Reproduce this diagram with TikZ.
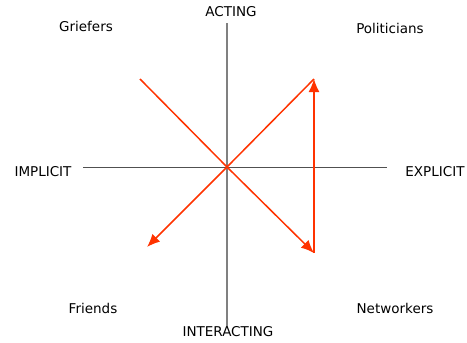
\documentclass[tikz,border=0pt]{standalone}
\usepackage{fontspec}
\setmainfont{DejaVu Sans}
\usetikzlibrary{arrows.meta,positioning}

\definecolor{axisgray}{HTML}{808080}
\definecolor{axisdark}{HTML}{505050}
\definecolor{pathred}{HTML}{FF3300}

\begin{document}
\begin{tikzpicture}[
    x=1pt, y=-1pt,
    label/.style={font=\fontsize{13.5}{15}\selectfont, inner sep=0pt, text=black},
    axisv/.style={draw=axisgray, line width=2pt},
    axish/.style={draw=axisdark, line width=1pt},
    move/.style={draw=pathred, line width=1.5pt},
    movearrow/.style={move, -{Latex[length=13pt,width=11pt]}},
]
    \useasboundingbox (0,0) rectangle (467,343);

    % Axis end points
    \coordinate (top) at (227,23);
    \coordinate (bottom) at (227,327);
    \coordinate (left) at (83,167);
    \coordinate (right) at (387,167);
    \coordinate (origin) at (227,167);

    % Path points
    \coordinate (griefer) at (140,79);
    \coordinate (friend) at (147,247);
    \coordinate (networker) at (314,253);
    \coordinate (politician) at (314,79);

    % Axes
    \draw[axish] (left) -- (right);
    \draw[axisv] (top) -- (bottom);

    % Axis labels
    \node[label] (acting) at (231,12) {ACTING};
    \node[label] (interacting) at (228,332) {INTERACTING};
    \node[label] (implicit) at (43,172) {IMPLICIT};
    \node[label] (explicit) at (435,172) {EXPLICIT};

    % Quadrant labels
    \node[label] (griefers) at (86,26) {Griefers};
    \node[label] (politicians) at (390,28) {Politicians};
    \node[label] (friends) at (93,308) {Friends};
    \node[label] (networkers) at (395,308) {Networkers};

    % Paths
    \draw[movearrow] (griefer) -- (origin) -- (networker);
    \draw[movearrow] (origin) -- (friend);
    \draw[move] (origin) -- (politician);
    \draw[movearrow] (networker) -- (politician);
\end{tikzpicture}
\end{document}
